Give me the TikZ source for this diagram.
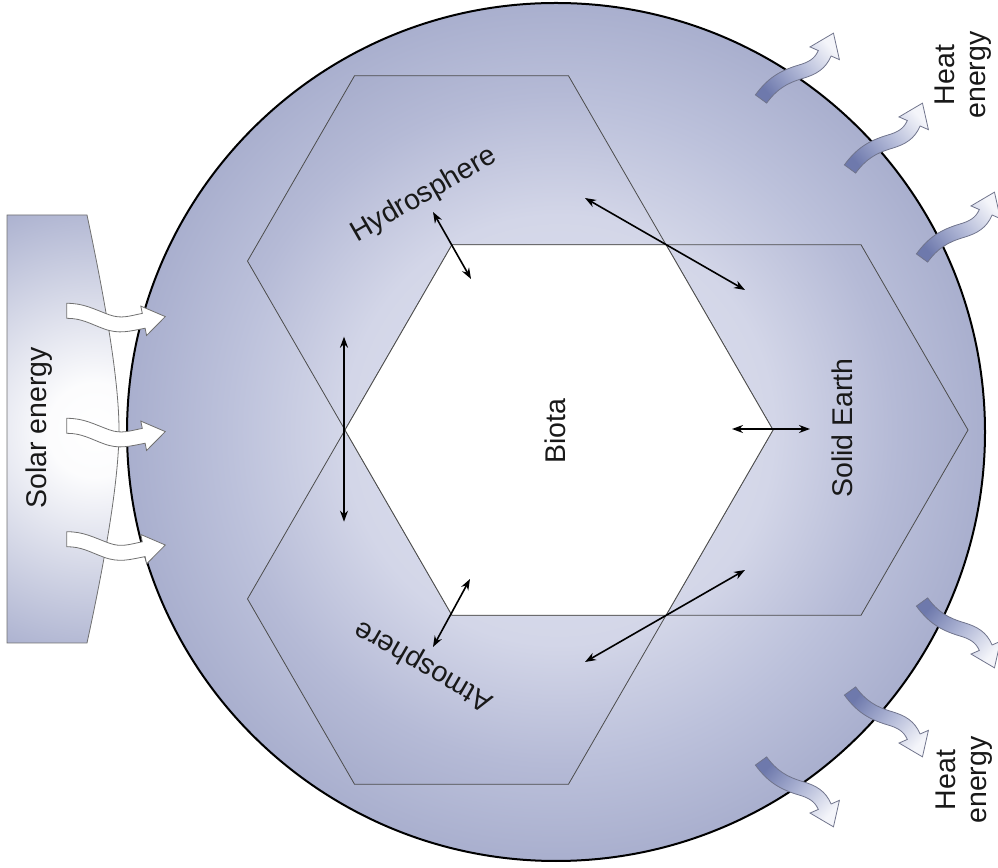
\documentclass[tikz,border=0pt]{standalone}
\usepackage{fontspec}
\setmainfont{Liberation Sans}
\usetikzlibrary{arrows.meta}

\definecolor{globeA}{HTML}{E4E7F1}
\definecolor{globeB}{HTML}{D5D8E9}
\definecolor{globeC}{HTML}{BCC1DB}
\definecolor{globeD}{HTML}{A9AFCE}
\definecolor{bandA}{HTML}{E0E3EF}
\definecolor{bandB}{HTML}{D3D6E8}
\definecolor{bandC}{HTML}{B5BAD6}
\definecolor{bandD}{HTML}{A7ADCC}
\definecolor{heatTail}{HTML}{6E79AC}
\definecolor{heatMid}{HTML}{B0B7D6}
\definecolor{heatTip}{HTML}{F4F5FA}
\definecolor{heatLine}{HTML}{70748C}
\definecolor{sunEdge}{HTML}{707070}

% sphere body: light near the middle, darker towards the rim
\pgfdeclareradialshading{globeshade}{\pgfpoint{0bp}{0bp}}{color(0bp)=(globeA); color(12bp)=(globeB); color(19bp)=(globeC); color(25bp)=(globeD); color(50bp)=(globeD)}
% the three outer reservoirs
\pgfdeclareradialshading{bandshade}{\pgfpoint{0bp}{0bp}}{color(0bp)=(bandA); color(12.5bp)=(bandB); color(19.5bp)=(bandC); color(24bp)=(bandD); color(50bp)=(bandD)}
% glow of the solar source
\pgfdeclareradialshading{solarglow}{\pgfpoint{0bp}{0bp}}{color(0bp)=(white); color(5bp)=(white!96!globeD); color(25bp)=(globeD); color(50bp)=(globeD)}

% wavy outgoing heat arrow, tail at the origin, pointing along +x
\newcommand{\heatpath}{(1.5,-6.8) to[out=12,in=155] (45.0,-12.3) to[out=-25,in=205] (81.0,-14.3) -- (84.8,-22.5) -- (97.9,1.3) -- (71.2,6.5) -- (75.0,-1.7) to[out=205,in=-25] (51.0,0.3) to[out=155,in=12] (-1.5,6.8) -- cycle}
% wavy incoming solar arrow, tail at the origin, pointing along +x
\newcommand{\sunpath}{(0,-7.5) to[out=0,in=160] (37.4,-18.1) to[out=-20,in=191] (78.4,-17.4) -- (79.9,-24.7) -- (98.6,-5.8) -- (74.1,4.7) -- (75.6,-2.6) to[out=191,in=-20] (42.6,-4.0) to[out=160,in=0] (0,7.5) -- cycle}
\newcommand{\panelpath}{(7,652) -- (87,652) .. controls (105,567) and (119,487) .. (119,437) .. controls (119,387) and (105,307) .. (87,224) -- (7,224) -- cycle}

\begin{document}
\begin{tikzpicture}[x=1pt,y=1pt,
  rim/.style={draw=black,line width=2pt},
  edge/.style={draw=black!70,line width=0.8pt},
  link/.style={{Stealth[length=11pt,width=8pt]}-{Stealth[length=11pt,width=8pt]},line width=1.6pt},
  label/.style={font=\fontsize{28.5}{31}\selectfont,text=black!90,inner sep=0pt},
  heatflow/.style={bottom color=heatTail,top color=heatTip,middle color=heatMid,draw=heatLine,line width=0.8pt},
  sunflow/.style={fill=white,draw=sunEdge,line width=0.8pt}]
\useasboundingbox (0,0) rectangle (998,867);

% ---- solar source ----
\begin{scope}
  \clip \panelpath;
  \shade[shading=solarglow] (95,437) circle (240);
\end{scope}
\draw[draw=sunEdge,line width=0.8pt] \panelpath;

% ---- sphere ----
\coordinate (globe) at (556,435);
\shade[shading=globeshade] (globe) circle (429);

% hexagon geometry
\coordinate (core) at (559,437);
\coordinate (bR)  at (773,437);
\coordinate (bUR) at (666,622.3);
\coordinate (bUL) at (452,622.3);
\coordinate (bL)  at (345,437);
\coordinate (bLL) at (452,251.7);
\coordinate (bLR) at (666,251.7);
\coordinate (hL)  at (247.5,605.9);
\coordinate (hTL) at (354.5,791.2);
\coordinate (hTR) at (568.5,791.2);
\coordinate (sTR) at (861,622.3);
\coordinate (sR)  at (968,437);
\coordinate (sBR) at (861,251.7);
\coordinate (aBR) at (568.5,82.8);
\coordinate (aBL) at (354.5,82.8);
\coordinate (aL)  at (247.5,268.1);

\begin{scope}
  \clip (hL) -- (hTL) -- (hTR) -- (bUR) -- (bUL) -- (bL) -- cycle
        (bUR) -- (sTR) -- (sR) -- (sBR) -- (bLR) -- (bR) -- cycle
        (bL) -- (bLL) -- (bLR) -- (aBR) -- (aBL) -- (aL) -- cycle;
  \shade[shading=bandshade] (core) circle (429);
\end{scope}
\draw[edge] (hL) -- (hTL) -- (hTR) -- (bUR) -- (bUL) -- (bL) -- cycle;
\draw[edge] (bUR) -- (sTR) -- (sR) -- (sBR) -- (bLR) -- (bR) -- cycle;
\draw[edge] (bL) -- (bLL) -- (bLR) -- (aBR) -- (aBL) -- (aL) -- cycle;
\filldraw[edge,fill=white] (bR) -- (bUR) -- (bUL) -- (bL) -- (bLL) -- (bLR) -- cycle;

\draw[rim] (globe) circle (429);

% ---- exchanges between reservoirs ----
\coordinate (ha1) at (344,530.3);  \coordinate (ha2) at (344,345.3);
\coordinate (hb1) at (433,655);    \coordinate (hb2) at (471,588);
\coordinate (hs1) at (585,669);    \coordinate (hs2) at (745,577);
\coordinate (bs1) at (732,438);    \coordinate (bs2) at (810,438);
\coordinate (ab1) at (433,220);    \coordinate (ab2) at (470,288);
\coordinate (as1) at (585,205);    \coordinate (as2) at (745,297);
\draw[link] (ha1) -- (ha2);
\draw[link] (hb1) -- (hb2);
\draw[link] (hs1) -- (hs2);
\draw[link] (bs1) -- (bs2);
\draw[link] (ab1) -- (ab2);
\draw[link] (as1) -- (as2);

% ---- labels ----
\node[label,rotate=30]  (hydro) at (424,672) {Hydrosphere};
\node[label,rotate=150] (atmos) at (424,202) {Atmosphere};
\node[label,rotate=90]  (biota) at (555,436) {Biota};
\node[label,rotate=90]  (earth) at (842,439) {Solid Earth};
\node[label,rotate=90]  (solar) at (39,439) {Solar energy};
\node[label,rotate=90,align=center] (heatT) at (963,792) {Heat\\energy};
\node[label,rotate=90,align=center] (heatB) at (964,87) {Heat\\energy};

% ---- incoming solar energy ----
\filldraw[sunflow,shift={(66.7,556.2)}] \sunpath;
\filldraw[sunflow,shift={(66.7,441.2)}] \sunpath;
\filldraw[sunflow,shift={(66.7,327.8)}] \sunpath;

% ---- outgoing heat ----
\shade[heatflow,shading angle=-48.5,shift={(761,768)},rotate=41.5] \heatpath;
\shade[heatflow,shading angle=-48.5,shift={(850,698)},rotate=41.5] \heatpath;
\shade[heatflow,shading angle=-48.5,shift={(922,609)},rotate=41.5] \heatpath;
\shade[heatflow,shading angle=-131.5,shift={(922,265)},rotate=-41.5,yscale=-1] \heatpath;
\shade[heatflow,shading angle=-131.5,shift={(850,176)},rotate=-41.5,yscale=-1] \heatpath;
\shade[heatflow,shading angle=-131.5,shift={(761,106)},rotate=-41.5,yscale=-1] \heatpath;
\end{tikzpicture}
\end{document}
